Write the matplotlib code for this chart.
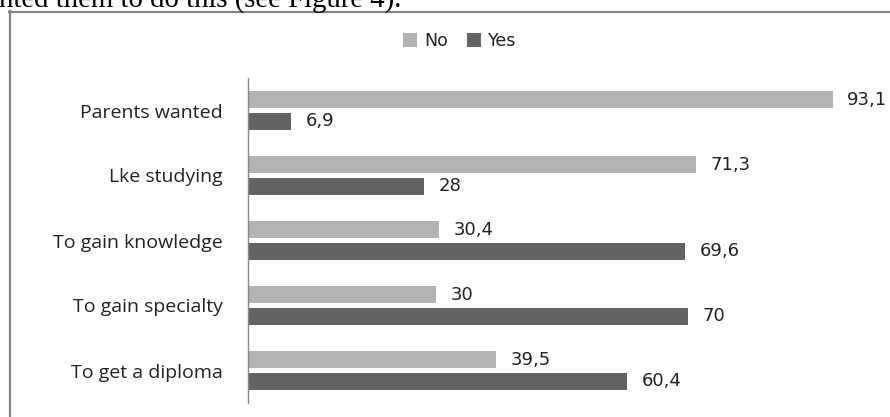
import matplotlib
matplotlib.use("Agg")
import matplotlib.pyplot as plt
from matplotlib.lines import Line2D
import numpy as np

# Survey data: reasons for studying (percent)
categories = ["Parents wanted", "Lke studying", "To gain knowledge",
              "To gain specialty", "To get a diploma"]
no_values = [93.1, 71.3, 30.4, 30, 39.5]
yes_values = [6.9, 28, 69.6, 70, 60.4]
no_labels = ["93,1", "71,3", "30,4", "30", "39,5"]
yes_labels = ["6,9", "28", "69,6", "70", "60,4"]

W, H = 890, 417
fig = plt.figure(figsize=(W / 100, H / 100), dpi=100)
fig.patch.set_facecolor("white")

# Frame of the chart area (left and top edges visible)
frame_color = "#858585"
fig.add_artist(Line2D([9.5 / W, 9.5 / W], [0, 1 - 11 / H], transform=fig.transFigure,
                      color=frame_color, lw=1.6))
fig.add_artist(Line2D([9 / W, 1], [1 - 11.5 / H, 1 - 11.5 / H], transform=fig.transFigure,
                      color=frame_color, lw=1.6))

# Running text of the page above the chart
fig.text(-1 / W, 1 - 7 / H, "nted them to do this (see Figure 4).",
         family="Liberation Serif", fontsize=20.7, color="black",
         ha="left", va="baseline")

ax_left, ax_right = 248 / W, 1.0
ax_top, ax_bottom = 1 - 78 / H, 1 - 403 / H
ax = fig.add_axes([ax_left, ax_bottom, ax_right - ax_left, ax_top - ax_bottom])
ax.set_facecolor("none")

y = np.arange(len(categories))
offset = 0.168
bar_h = 0.26
no_color = "#b3b3b3"
yes_color = "#636363"

ax.barh(y - offset, no_values, height=bar_h, color=no_color, label="No")
ax.barh(y + offset, yes_values, height=bar_h, color=yes_color, label="Yes")

ax.set_xlim(0, 642 / 6.28)
ax.set_ylim(len(categories) - 0.5, -0.5)

for yi, v, t in zip(y - offset, no_values, no_labels):
    ax.annotate(t, (v, yi), xytext=(10.5, 0), textcoords="offset points",
                va="center", ha="left", fontsize=13, color="#222222",
                family="DejaVu Sans")
for yi, v, t in zip(y + offset, yes_values, yes_labels):
    ax.annotate(t, (v, yi), xytext=(10.5, 0), textcoords="offset points",
                va="center", ha="left", fontsize=13, color="#222222",
                family="DejaVu Sans")

ax.set_yticks(y)
ax.set_yticklabels(categories, family="Open Sans", fontsize=14, color="#222222")
ax.tick_params(axis="y", length=0, pad=18)
ax.set_xticks([])
for s in ["top", "right", "bottom"]:
    ax.spines[s].set_visible(False)
ax.spines["left"].set_color("#8a8a8a")
ax.spines["left"].set_linewidth(1.0)

leg = fig.legend(loc="center", bbox_to_anchor=(460 / W, 1 - 41 / H), ncol=2,
                 frameon=False, handlelength=0.8, handleheight=0.8,
                 handletextpad=0.4, columnspacing=1.1,
                 prop={"family": "DejaVu Sans", "size": 12.5})
for t in leg.get_texts():
    t.set_color("#222222")

fig.savefig("out.png", dpi=100, facecolor="white")
